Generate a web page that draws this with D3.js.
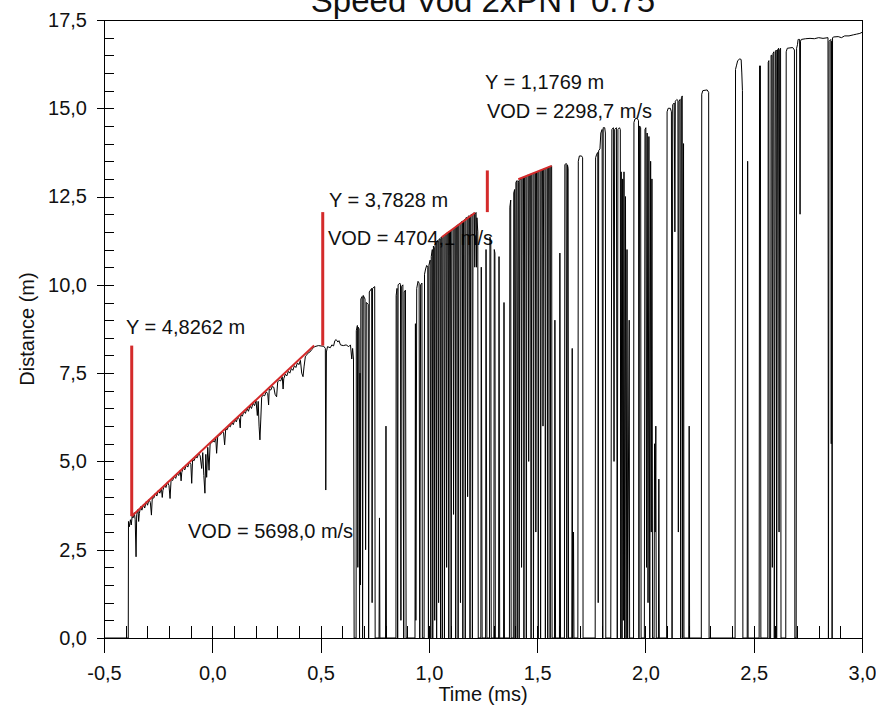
<!DOCTYPE html>
<html>
<head>
<meta charset="utf-8">
<script src="https://cdn.jsdelivr.net/npm/d3@7.9.0/dist/d3.min.js"></script>
<style>
  body { margin: 0; background: #fff; }
  svg { display: block; font-family: "Liberation Sans", Arial, sans-serif; }
</style>
</head>
<body>
<div id="chart"></div>
<script>
const xTicks = [-0.5, 0, 0.5, 1, 1.5, 2, 2.5, 3];
const yTicks = [0, 2.5, 5, 7.5, 10, 12.5, 15, 17.5];

// distance trace: [time ms, distance m]
const trace = [
  [-0.5,0],[-0.388,0],[-0.387,3.3],[-0.383,3.15],[-0.378,3.35],[-0.374,3.2],[-0.370,3.45],
  [-0.366,3.40],[-0.360,3.55],[-0.356,3.35],[-0.352,2.30],[-0.349,3.50],[-0.343,3.64],[-0.340,3.30],
  [-0.337,3.52],[-0.331,3.72],[-0.325,3.62],[-0.318,3.78],[-0.312,3.68],[-0.305,3.86],[-0.299,3.76],
  [-0.292,3.92],[-0.286,3.84],[-0.281,3.48],[-0.277,3.98],[-0.270,3.96],[-0.263,4.10],[-0.256,4.02],
  [-0.249,4.18],[-0.242,4.10],[-0.235,4.25],[-0.231,3.98],[-0.228,4.18],[-0.221,4.33],[-0.214,4.26],
  [-0.207,4.42],[-0.200,4.32],[-0.195,3.95],[-0.190,4.50],[-0.183,4.46],[-0.176,4.58],[-0.169,4.52],
  [-0.162,4.66],[-0.155,4.60],[-0.148,4.75],[-0.144,4.45],[-0.141,4.68],[-0.134,4.83],[-0.127,4.76],
  [-0.120,4.90],[-0.113,4.84],[-0.106,4.98],[-0.099,4.92],[-0.095,4.38],[-0.091,5.05],[-0.084,5.02],
  [-0.077,5.14],[-0.070,5.10],[-0.063,5.22],[-0.056,5.16],[-0.049,4.80],[-0.044,5.25],[-0.039,4.60],
  [-0.034,4.10],[-0.030,5.20],[-0.026,4.55],[-0.021,5.40],[-0.015,4.75],[-0.010,5.50],[-0.004,5.52],
  [0.003,5.58],[0.010,5.55],[0.016,5.66],[0.020,5.23],[0.025,5.70],[0.032,5.74],[0.039,5.76],
  [0.046,5.84],[0.052,5.82],[0.057,5.47],[0.062,5.92],[0.069,5.90],[0.076,6.02],[0.083,5.98],
  [0.090,6.10],[0.097,6.04],[0.104,6.18],[0.111,6.12],[0.118,6.26],[0.125,6.20],[0.129,5.95],
  [0.132,6.33],[0.139,6.28],[0.146,6.42],[0.153,6.36],[0.160,6.50],[0.167,6.42],[0.174,6.57],
  [0.181,6.50],[0.188,6.65],[0.195,6.58],[0.202,6.72],[0.208,6.30],[0.212,6.70],[0.216,6.00],
  [0.220,5.61],[0.224,6.20],[0.228,6.82],[0.235,6.88],[0.242,6.86],[0.249,6.97],[0.256,6.92],
  [0.260,6.60],[0.263,7.05],[0.270,7.02],[0.277,7.12],[0.284,7.10],[0.290,6.90],[0.297,6.83],
  [0.302,7.25],[0.309,7.30],[0.316,7.28],[0.323,7.40],[0.327,7.05],[0.330,7.34],[0.337,7.47],
  [0.344,7.42],[0.351,7.55],[0.358,7.50],[0.365,7.63],[0.372,7.58],[0.379,7.71],[0.386,7.66],
  [0.393,7.79],[0.400,7.74],[0.407,7.86],[0.413,7.50],[0.419,7.40],[0.424,7.70],[0.430,7.98],
  [0.437,8.02],[0.444,8.08],[0.451,8.10],[0.458,8.16],[0.465,8.20],[0.472,8.25],
  [0.490,8.28],[0.515,8.26],[0.522,8.20],[0.524,4.19],[0.527,8.10],[0.532,8.25],[0.545,8.22],
  [0.552,8.30],[0.560,8.27],[0.566,8.42],[0.572,8.45],[0.580,8.38],[0.585,8.42],[0.592,8.30],
  [0.605,8.28],[0.618,8.30],[0.630,8.25],[0.638,8.30],[0.644,7.90],[0.648,8.20],[0.652,7.90],
  [0.655,0],[0.664,0],[0.665,8.70],[0.670,8.85],[0.672,2.0],[0.674,8.80],[0.678,8.75],[0.680,0],
  [0.682,7.5],[0.684,1.5],[0.686,9.6],[0.692,9.67],[0.694,0],[0.697,9.7],[0.705,9.6],[0.708,2.5],
  [0.711,9.5],[0.720,9.45],[0.722,0],[0.725,9.8],[0.736,9.9],[0.738,1.0],[0.740,9.9],[0.750,9.95],
  [0.752,0],[0.770,0],[0.772,3.4],[0.774,0],[0.800,0],[0.802,6.0],[0.804,0],[0.848,0],
  [0.849,9.7],[0.853,9.9],[0.856,0],[0.858,10.0],[0.866,10.05],[0.869,10.0],[0.871,0.5],[0.873,9.95],
  [0.880,10.0],[0.884,0],[0.886,9.8],[0.892,9.85],[0.895,0],[0.936,0],[0.938,8.9],[0.940,0.5],
  [0.944,9.9],[0.950,10.1],[0.955,10.05],[0.958,0],[0.962,10.0],[0.968,10.05],[0.970,0],[0.978,0],
  [0.980,10.3],[0.985,10.45],[0.990,10.55],[0.995,10.5],[0.998,0],[1.000,10.55],[1.006,10.7],[1.009,0],
  [1.011,10.8],[1.016,11.0],[1.018,0],[1.021,11.1],[1.025,11.05],[1.027,0.5],[1.029,11.15],[1.034,11.2],
  [1.036,0],[1.038,11.25],[1.043,11.25],[1.045,1.0],[1.047,11.3],[1.052,11.3],[1.054,0],[1.056,11.35],
  [1.060,11.33],[1.062,0],[1.065,11.35],[1.070,11.38],[1.072,0],[1.075,11.4],[1.080,11.42],[1.082,2.0],
  [1.085,11.45],[1.090,11.48],[1.092,0],[1.095,11.5],[1.100,11.52],[1.103,0],[1.106,11.55],[1.112,11.58],
  [1.114,3.5],[1.117,11.6],[1.122,11.62],[1.124,0],[1.127,11.65],[1.133,11.7],[1.135,0],[1.138,11.72],
  [1.144,11.75],[1.146,1.0],[1.149,11.78],[1.155,11.8],[1.157,0],[1.160,11.82],[1.166,11.85],[1.168,0],
  [1.171,11.9],[1.177,11.9],[1.179,4.0],[1.182,11.95],[1.188,11.95],[1.190,0],[1.193,11.98],[1.199,12.0],
  [1.201,0],[1.204,12.02],[1.210,12.04],[1.212,10.5],[1.214,12.0],[1.218,12.05],[1.220,10.5],[1.222,11.9],
  [1.226,11.5],[1.228,0],[1.240,0],[1.242,10.5],[1.246,0],[1.262,0],[1.264,11.0],[1.268,0],
  [1.280,0],[1.282,11.35],[1.286,11.2],[1.288,0],[1.300,0],[1.302,11.0],[1.305,10.9],[1.307,0],
  [1.322,0],[1.324,10.8],[1.327,0],[1.345,0],[1.347,9.5],[1.349,0],[1.372,0],[1.374,12.2],
  [1.378,12.4],[1.380,0],[1.390,0],[1.392,12.6],[1.396,12.7],[1.398,0],[1.402,12.9],[1.406,12.95],
  [1.408,0],[1.412,12.95],[1.415,12.9],[1.417,0],[1.420,12.98],[1.426,13.0],[1.428,2.0],[1.431,13.02],
  [1.437,13.04],[1.439,0],[1.442,13.05],[1.448,13.06],[1.450,0],[1.453,13.1],[1.459,13.1],[1.461,5.0],
  [1.464,13.12],[1.470,13.13],[1.472,0],[1.475,13.15],[1.481,13.15],[1.483,0],[1.486,13.17],[1.492,13.18],
  [1.494,3.0],[1.497,13.2],[1.503,13.2],[1.505,0],[1.508,13.22],[1.514,13.24],[1.516,0],[1.519,13.25],
  [1.525,13.26],[1.527,6.0],[1.530,13.28],[1.536,13.28],[1.538,0],[1.541,13.3],[1.547,13.32],[1.549,0],
  [1.552,13.33],[1.558,13.35],[1.560,0],[1.563,13.35],[1.567,13.37],[1.569,0],[1.580,0],[1.582,9.0],
  [1.585,0],[1.603,0],[1.605,10.9],[1.608,0],[1.626,0],[1.628,13.4],[1.634,13.44],[1.637,0],
  [1.640,13.4],[1.643,13.3],[1.645,0],[1.660,0],[1.662,8.2],[1.664,0],[1.668,3.0],[1.670,0],
  [1.688,0],[1.690,13.5],[1.695,13.65],[1.705,13.65],[1.710,13.6],[1.712,0],[1.768,0],[1.770,13.6],
  [1.775,13.7],[1.780,13.75],[1.782,1.0],[1.784,13.8],[1.790,13.85],[1.794,14.3],[1.800,14.4],[1.803,0],
  [1.805,14.45],[1.812,14.45],[1.815,14.3],[1.817,0],[1.840,0],[1.845,14.4],[1.852,14.45],[1.855,5.0],
  [1.858,14.4],[1.866,14.45],[1.870,0],[1.873,14.4],[1.880,14.45],[1.884,14.4],[1.886,0],[1.888,13.2],
  [1.892,0],[1.895,13.0],[1.898,0.5],[1.901,13.2],[1.904,0],[1.908,12.5],[1.911,0],[1.915,11.0],
  [1.918,0],[1.925,9.0],[1.927,0],[1.945,0],[1.947,14.6],[1.952,14.7],[1.962,14.72],[1.968,14.65],
  [1.970,0],[1.973,14.5],[1.978,14.45],[1.980,0],[1.995,0],[1.998,14.4],[2.002,14.45],[2.005,2.0],
  [2.008,14.3],[2.012,1.0],[2.016,14.2],[2.020,0],[2.024,13.5],[2.027,3.0],[2.030,13.0],[2.033,0],
  [2.040,0],[2.042,5.5],[2.045,3.0],[2.048,6.0],[2.050,0],[2.060,0],[2.062,4.5],[2.064,0],
  [2.098,0],[2.100,14.9],[2.105,15.0],[2.115,15.0],[2.120,14.9],[2.123,0],[2.126,15.1],[2.133,15.15],
  [2.136,11.5],[2.138,15.2],[2.145,15.25],[2.150,15.22],[2.152,3.0],[2.155,15.2],[2.160,15.25],[2.163,0],
  [2.166,15.3],[2.170,15.35],[2.172,0],[2.176,14.0],[2.178,0],[2.200,0],[2.202,6.0],[2.204,0],
  [2.258,0],[2.260,15.4],[2.265,15.5],[2.285,15.52],[2.292,15.45],[2.294,0],[2.414,0],[2.416,16.1],
  [2.420,16.2],[2.426,16.35],[2.436,16.4],[2.442,16.38],[2.445,16.0],[2.448,15.5],[2.450,0],[2.470,0],
  [2.472,13.5],[2.474,0],[2.525,0],[2.527,16.2],[2.531,16.2],[2.533,0],[2.565,0],[2.567,16.3],
  [2.570,16.35],[2.572,0],[2.578,0],[2.580,16.5],[2.584,16.5],[2.586,2.0],[2.589,16.55],[2.593,16.6],
  [2.595,0],[2.600,16.6],[2.604,16.65],[2.606,0],[2.610,16.65],[2.615,16.7],[2.617,3.0],[2.620,16.65],
  [2.624,16.7],[2.626,0],[2.648,0],[2.650,16.6],[2.655,16.7],[2.680,16.72],[2.688,16.65],[2.690,0],
  [2.696,0],[2.698,16.7],[2.702,16.8],[2.705,16.95],[2.708,16.95],[2.712,16.95],[2.714,12.0],[2.716,16.9],
  [2.720,16.95],[2.740,16.97],[2.760,16.98],[2.780,16.97],[2.800,17.0],[2.820,16.98],[2.843,17.0],
  [2.845,0],[2.848,16.9],[2.856,16.95],[2.858,5.5],[2.860,16.9],[2.862,0],[2.864,17.0],[2.870,17.02],
  [2.890,17.03],[2.905,17.0],[2.920,17.05],[2.940,17.05],[2.960,17.08],[2.975,17.1],[2.990,17.12],[3.0,17.15]
];

// red regression lines and the vertical distance markers
const fitLines = [
  [[-0.372, 3.45], [0.470, 8.28]],
  [[1.059, 11.35], [1.213, 12.04]],
  [[1.413, 12.99], [1.567, 13.37]]
];
const markerLines = [
  [[-0.372, 3.45], [-0.372, 8.28]],
  [[0.510, 8.28], [0.510, 12.06]],
  [[1.270, 12.06], [1.270, 13.24]]
];
const annotations = [
  { text: "Y = 4,8262 m", t: -0.398, d: 8.61 },
  { text: "VOD = 5698,0 m/s", t: -0.112, d: 2.83 },
  { text: "Y = 3,7828 m", t: 0.539, d: 12.2 },
  { text: "VOD = 4704,1 m/s", t: 0.534, d: 11.13 },
  { text: "Y = 1,1769 m", t: 1.259, d: 15.55 },
  { text: "VOD = 2298,7 m/s", t: 1.268, d: 14.73 }
];

const W = 876, H = 705;
const M = { top: 20, right: 14, bottom: 67, left: 104 };

const svg = d3.select("#chart").append("svg")
  .attr("width", W).attr("height", H);

svg.append("rect").attr("width", W).attr("height", H).attr("fill", "#fff");

const x = d3.scaleLinear().domain([-0.5, 3]).range([M.left, W - M.right]);
const y = d3.scaleLinear().domain([0, 17.5]).range([H - M.bottom, M.top]);
const fmt = d => d.toFixed(1).replace(".", ",");

// annotation text goes under the trace, like the original
svg.append("g")
  .selectAll("text")
  .data(annotations)
  .join("text")
  .attr("x", d => x(d.t))
  .attr("y", d => y(d.d))
  .attr("font-size", 20)
  .attr("fill", "#111")
  .text(d => d.text);

const line = d3.line().x(d => x(d[0])).y(d => y(d[1]));

svg.append("path")
  .datum(trace)
  .attr("d", line)
  .attr("fill", "none")
  .attr("stroke", "#000")
  .attr("stroke-width", 1);

svg.append("g")
  .selectAll("path")
  .data(fitLines)
  .join("path")
  .attr("d", line)
  .attr("stroke", "#d42a2a")
  .attr("stroke-width", 2)
  .attr("fill", "none");

svg.append("g")
  .selectAll("path")
  .data(markerLines)
  .join("path")
  .attr("d", line)
  .attr("stroke", "#d42a2a")
  .attr("stroke-width", 3)
  .attr("fill", "none");

// frame
svg.append("rect")
  .attr("x", M.left).attr("y", M.top)
  .attr("width", W - M.left - M.right)
  .attr("height", H - M.top - M.bottom)
  .attr("fill", "none")
  .attr("stroke", "#000")
  .attr("shape-rendering", "crispEdges");

const yBase = H - M.bottom;

// x axis: labels + outward major ticks
const gx = svg.append("g")
  .attr("transform", `translate(0,${yBase})`)
  .call(d3.axisBottom(x).tickValues(xTicks).tickSize(15).tickSizeOuter(0).tickPadding(13).tickFormat(fmt));
gx.selectAll("text").attr("font-size", 20).attr("fill", "#111").attr("font-family", null);

svg.append("g")
  .attr("transform", `translate(0,${yBase})`)
  .call(d3.axisTop(x).tickValues(xTicks).tickSize(12).tickSizeOuter(0).tickFormat(""))
  .call(g => g.select(".domain").remove());

svg.append("g")
  .attr("transform", `translate(0,${yBase})`)
  .call(d3.axisTop(x).ticks(35).tickSize(12).tickSizeOuter(0).tickFormat(""))
  .call(g => g.select(".domain").remove());

// y axis
const gy = svg.append("g")
  .attr("transform", `translate(${M.left},0)`)
  .call(d3.axisLeft(y).tickValues(yTicks).tickSize(7).tickSizeOuter(0).tickPadding(10).tickFormat(fmt));
gy.selectAll("text").attr("font-size", 20).attr("fill", "#111").attr("font-family", null);

svg.append("g")
  .attr("transform", `translate(${M.left},0)`)
  .call(d3.axisRight(y).ticks(35).tickSize(10).tickSizeOuter(0).tickFormat(""))
  .call(g => g.select(".domain").remove());

svg.selectAll(".tick line, .domain").attr("stroke", "#000").attr("shape-rendering", "crispEdges");

// titles
svg.append("text")
  .attr("x", (M.left + W - M.right) / 2)
  .attr("y", 12)
  .attr("text-anchor", "middle")
  .attr("font-size", 33)
  .attr("fill", "#111")
  .text("Speed Vod 2xPNT 0.75");

svg.append("text")
  .attr("x", (M.left + W - M.right) / 2)
  .attr("y", 701)
  .attr("text-anchor", "middle")
  .attr("font-size", 20)
  .attr("fill", "#111")
  .text("Time (ms)");

svg.append("text")
  .attr("transform", `translate(34,${(M.top + yBase) / 2}) rotate(-90)`)
  .attr("text-anchor", "middle")
  .attr("font-size", 20)
  .attr("fill", "#111")
  .text("Distance (m)");
</script>
</body>
</html>
